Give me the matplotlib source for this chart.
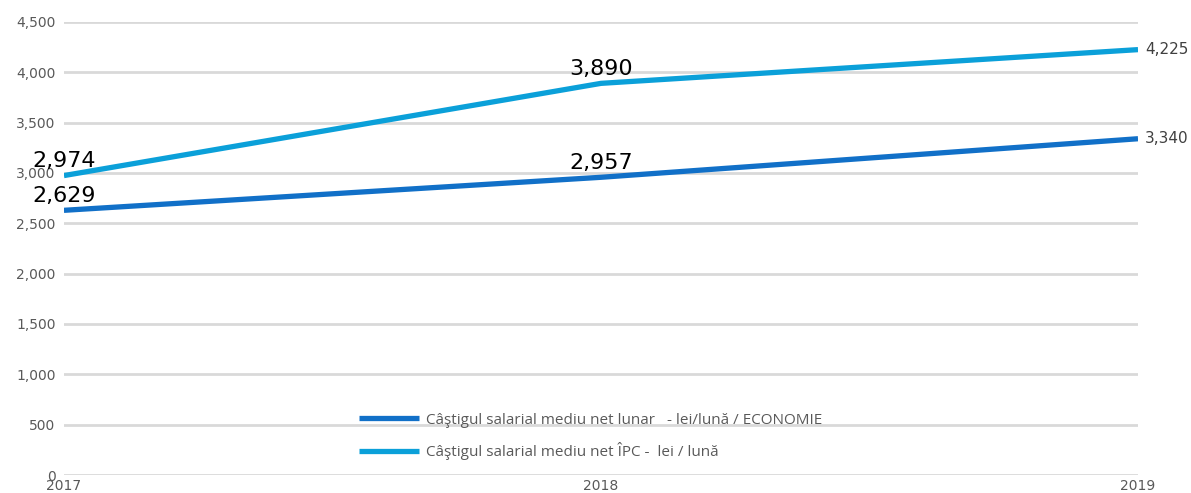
import matplotlib
matplotlib.use("Agg")
import matplotlib.pyplot as plt

years = ["2017", "2018", "2019"]
economie = [2629, 2957, 3340]
ipc = [2974, 3890, 4225]
series_names = ["Câştigul salarial mediu net lunar   - lei/lună / ECONOMIE",
                "Câştigul salarial mediu net ÎPC -  lei / lună"]
yticks = [0, 500, 1000, 1500, 2000, 2500, 3000, 3500, 4000, 4500]

fig = plt.figure(figsize=(11.91, 4.93), dpi=100)
ax = fig.add_axes([0.0537, 0.0365, 0.9018, 0.919])

x = list(range(len(years)))
c1 = "#1170c8"
c2 = "#0ba0d9"
l1, = ax.plot(x, economie, color=c1, lw=3.8, solid_capstyle="butt", label=series_names[0])
l2, = ax.plot(x, ipc, color=c2, lw=3.8, solid_capstyle="butt", label=series_names[1])

ax.set_xlim(0, 2)
ax.set_ylim(0, 4500)
ax.set_yticks(yticks)
ax.set_yticklabels([f"{v:,}" for v in yticks])
ax.set_xticks(x)
ax.set_xticklabels(years)
ax.yaxis.grid(True, color="#d9d9d9", lw=2)
ax.set_axisbelow(True)
for s in ax.spines.values():
    s.set_visible(False)
ax.tick_params(axis="both", length=0, labelsize=10, labelcolor="#595959", pad=6)
ax.tick_params(axis="x", pad=3)

for series in (economie, ipc):
    for i in range(2):
        ax.annotate(f"{series[i]:,}", (x[i], series[i]), xytext=(0, 3),
                    textcoords="offset points", ha="center", va="bottom",
                    fontsize=16, color="black")
    ax.annotate(f"{series[2]:,}", (x[2], series[2]), xytext=(5, 0),
                textcoords="offset points", ha="left", va="center",
                fontsize=11, color="#404040", annotation_clip=False)

leg = ax.legend(handles=[l1, l2], loc="upper left", bbox_to_anchor=(0.262, 0.168),
                frameon=False, handlelength=3.9, handletextpad=0.5,
                labelspacing=0.95, prop={"family": "Open Sans", "size": 11})
for t in leg.get_texts():
    t.set_color("#595959")

fig.savefig("out.png", dpi=100)
